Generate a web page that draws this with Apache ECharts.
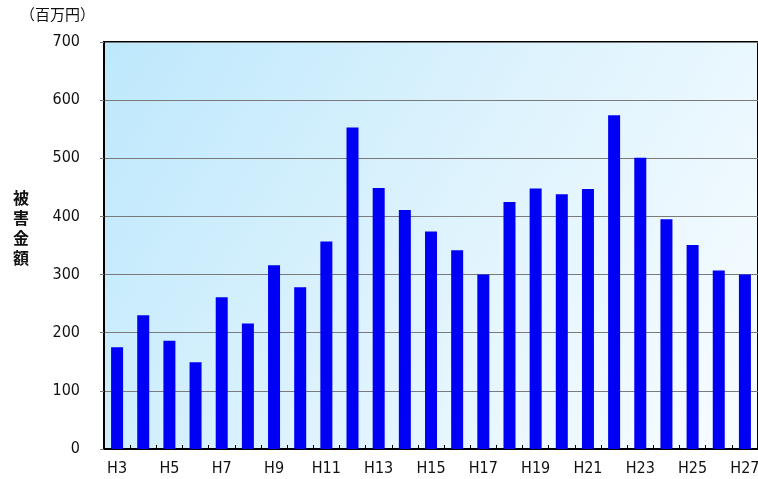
<!DOCTYPE html>
<html>
<head>
<meta charset="utf-8">
<script src="https://cdn.jsdelivr.net/npm/echarts@6/dist/echarts.min.js"></script>
<style>
  html, body { margin: 0; padding: 0; background: #fff; }
  #chart { width: 758px; height: 479px; }
</style>
</head>
<body>
<div id="chart"></div>
<script>
// 年度 (平成)
const years = ['H3','H4','H5','H6','H7','H8','H9','H10','H11','H12','H13','H14','H15',
               'H16','H17','H18','H19','H20','H21','H22','H23','H24','H25','H26','H27'];
// 被害金額 (百万円)
const damage = [175, 230, 186, 149, 261, 216, 316, 278, 357, 553, 449, 411, 374,
                342, 300, 425, 448, 438, 447, 574, 501, 395, 351, 307, 300];
// 縦軸目盛
const yTicks = [0, 100, 200, 300, 400, 500, 600, 700];

const labelFont = '"DejaVu Sans Condensed", "DejaVu Sans", sans-serif';
const jpFont = '"Noto Sans CJK JP", sans-serif';

const chart = echarts.init(document.getElementById('chart'), null, { renderer: 'canvas' });
chart.setOption({
  animation: false,
  backgroundColor: '#ffffff',
  grid: {
    left: 104, top: 42, right: 0, bottom: 30,
    outerBoundsMode: 'none',
    containLabel: false,
    show: true,
    borderColor: '#000',
    borderWidth: 2,
    backgroundColor: new echarts.graphic.LinearGradient(0, 0, 1, 1, [
      { offset: 0, color: '#bde8fc' },
      { offset: 0.5, color: '#def3fd' },
      { offset: 1, color: '#f9fdff' }
    ])
  },
  xAxis: {
    type: 'category',
    data: years,
    boundaryGap: true,
    axisLine: { lineStyle: { color: '#000', width: 2 } },
    axisTick: { show: true, inside: true, length: 4, interval: 0, lineStyle: { color: '#000' } },
    axisLabel: {
      interval: 1,
      color: '#111',
      fontFamily: labelFont,
      fontSize: 16,
      margin: 12,
      hideOverlap: false
    },
    splitLine: { show: false }
  },
  yAxis: {
    type: 'value',
    min: yTicks[0],
    max: yTicks[yTicks.length - 1],
    interval: 100,
    axisLine: { show: true, lineStyle: { color: '#000', width: 2 } },
    axisTick: { show: true, length: 4, lineStyle: { color: '#777' } },
    axisLabel: {
      color: '#111',
      fontFamily: labelFont,
      fontSize: 16,
      margin: 24
    },
    splitLine: { show: true, lineStyle: { color: '#7a7a7a', width: 1 } }
  },
  graphic: [
    {
      type: 'text', left: 20, top: 7,
      style: { text: '（百万円）', font: '15px ' + jpFont, fill: '#111' }
    },
    {
      type: 'text', left: 13, top: 188,
      style: {
        text: '被\n害\n金\n額',
        font: 'bold 16px ' + jpFont,
        lineHeight: 20,
        fill: '#111'
      }
    }
  ],
  series: [{
    type: 'bar',
    data: damage,
    barWidth: 12,
    itemStyle: { color: '#0000f5' }
  }]
});
</script>
</body>
</html>
